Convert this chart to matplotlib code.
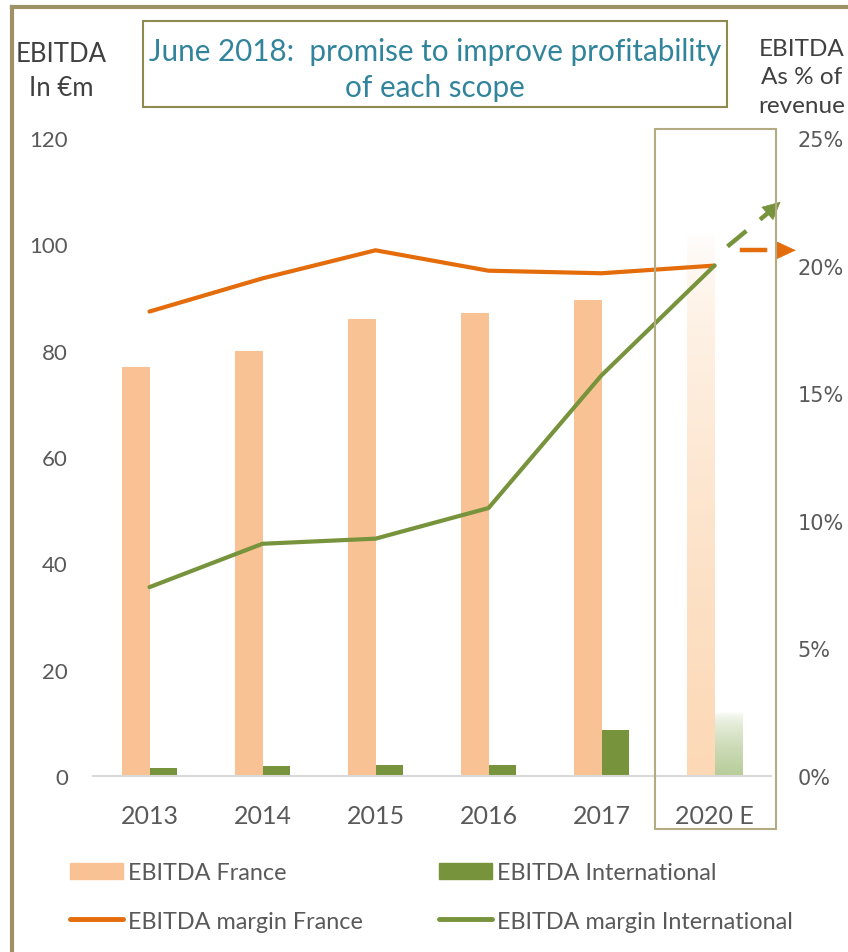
import numpy as np
import matplotlib.pyplot as plt
from matplotlib.lines import Line2D
from matplotlib.patches import Rectangle, Patch

plt.rcParams['font.family'] = ['Lato', 'DejaVu Sans']

years = ['2013', '2014', '2015', '2016', '2017', '2020 E']
ebitda_france = [77, 80, 86, 87, 89.5, 102]
ebitda_intl = [1.5, 1.9, 2.1, 2.1, 8.7, 12]
margin_france = [18.2, 19.5, 20.6, 19.8, 19.7, 20.0]
margin_intl = [7.4, 9.1, 9.3, 10.5, 15.7, 20.0]
target_france = 20.6
target_intl = 22.5

c_fr_bar = '#F9C294'
c_int = '#77933C'
c_fr_line = '#E46C0A'
c_text = '#595959'
c_frame = '#9D9266'

fig = plt.figure(figsize=(8.48, 9.53), dpi=100)
ax = fig.add_axes([93 / 848, 1 - 777 / 953, (771 - 93) / 848, (777 - 139) / 953])
ax2 = ax.twinx()

x = np.arange(len(years))
w = 0.24
n_act = 5

# actual years
ax.bar(x[:n_act] - w / 2, ebitda_france[:n_act], w, color=c_fr_bar, zorder=2)
ax.bar(x[:n_act] + w / 2, ebitda_intl[:n_act], w, color=c_int, zorder=2)


# estimate year: faded bars
def fade_bar(xc, h, rgb):
    grad = np.ones((256, 1, 4))
    grad[:, 0, :3] = rgb
    grad[:, 0, 3] = np.linspace(0, 1, 256) ** 0.6
    ax.imshow(grad, extent=[xc - w / 2, xc + w / 2, 0, h], origin='upper',
              aspect='auto', zorder=2, interpolation='bilinear')


fade_bar(x[5] - w / 2, ebitda_france[5], (0.99, 0.85, 0.71))
fade_bar(x[5] + w / 2, ebitda_intl[5], (0.72, 0.80, 0.60))

ax.set_xlim(-0.5, 5.5)
ax.set_ylim(0, 120)
ax.set_yticks(range(0, 121, 20))
ax.set_xticks(x)
ax.set_xticklabels(years)
ax.tick_params(axis='x', length=0, labelsize=18, labelcolor=c_text, pad=20)
ax.tick_params(axis='y', length=0, labelsize=16, labelcolor=c_text, pad=18)
for s in ['top', 'left', 'right']:
    ax.spines[s].set_visible(False)
    ax2.spines[s].set_visible(False)
ax.spines['bottom'].set_color('#D9D9D9')
ax.spines['bottom'].set_linewidth(1.5)
ax2.spines['bottom'].set_visible(False)

ax2.plot(x, margin_france, color=c_fr_line, lw=3, solid_capstyle='round', zorder=3)
ax2.plot(x, margin_intl, color=c_int, lw=3, solid_capstyle='round', zorder=3)
ax2.set_ylim(0, 25)
ax2.set_yticks(range(0, 26, 5))
ax2.set_yticklabels([f'{v}%' for v in range(0, 26, 5)], family='DejaVu Sans')
ax2.tick_params(axis='y', length=0, labelsize=15, labelcolor=c_text, pad=19)

# target arrows
ax2.plot([5.115, 5.47], [margin_intl[5] + 0.75, target_intl - 0.45], color=c_int, lw=3.2,
         ls=(0, (5.5, 4)), clip_on=False)
ax2.annotate('', xy=(5.584, target_intl), xytext=(5.47, target_intl - 0.45),
             arrowprops=dict(arrowstyle='-|>,head_length=0.6,head_width=0.3',
                             color=c_int, lw=0.5, shrinkA=0, shrinkB=0,
                             mutation_scale=20), annotation_clip=False)
ax2.plot([5.24, 5.45], [target_france, target_france], color=c_fr_line, lw=3.2,
         clip_on=False)
ax2.annotate('', xy=(5.72, target_france), xytext=(5.55, target_france),
             arrowprops=dict(arrowstyle='-|>,head_length=0.65,head_width=0.3',
                             color=c_fr_line, lw=0.5, shrinkA=0, shrinkB=0,
                             mutation_scale=20), annotation_clip=False)

# boxes and frame
fig.add_artist(Rectangle((655 / 848, 1 - 830 / 953), 121 / 848, 700 / 953,
                         transform=fig.transFigure, fill=False, ec='#B3AC83', lw=1.5))
fig.add_artist(Rectangle((143 / 848, 1 - 108 / 953), 584 / 848, 86 / 953,
                         transform=fig.transFigure, fill=False, ec='#8F8A4E', lw=1.5))
fig.add_artist(Line2D([12 / 848, 1], [1 - 8 / 953] * 2, transform=fig.transFigure,
                      color=c_frame, lw=3))
fig.add_artist(Line2D([12 / 848] * 2, [0, 1 - 8 / 953], transform=fig.transFigure,
                      color=c_frame, lw=3))

fig.text(435 / 848, 1 - 70 / 953, 'June 2018:  promise to improve profitability\nof each scope',
         ha='center', va='center', fontsize=21.3, color='#31849B', linespacing=1.38)
fig.text(61 / 848, 1 - 71 / 953, 'EBITDA\nIn €m', ha='center', va='center',
         fontsize=18.5, color='#404040', linespacing=1.45)
fig.text(802 / 848, 1 - 78 / 953, 'EBITDA\nAs % of\nrevenue', ha='center', va='center',
         fontsize=17.5, color='#404040', linespacing=1.47)

handles = [Patch(color=c_fr_bar),
           Line2D([], [], color=c_fr_line, lw=3.5, solid_capstyle='round'),
           Patch(color=c_int),
           Line2D([], [], color=c_int, lw=3.5, solid_capstyle='round')]
labels = ['EBITDA France', 'EBITDA margin France',
          'EBITDA International', 'EBITDA margin International']
fig.legend(handles, labels, ncol=2, loc='upper left', bbox_to_anchor=(49 / 848, 1 - 842 / 953),
           frameon=False, fontsize=16.8, labelcolor=c_text, handlelength=2.27,
           handleheight=0.7, handletextpad=0.21, columnspacing=3.26, labelspacing=1.18)

fig.savefig('out.png', dpi=100)
